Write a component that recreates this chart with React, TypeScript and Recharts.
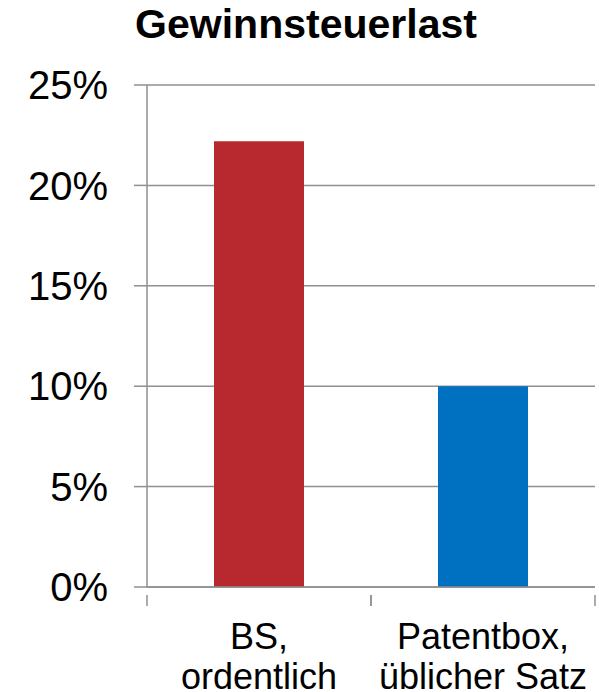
import { Bar, BarChart, CartesianGrid, Cell, XAxis, YAxis } from "recharts";

const categories = ["BS,\nordentlich", "Patentbox,\nüblicher Satz"];
const taxLoad = [22.2, 10];
const barColors = ["#B8282F", "#0070C0"];
const yTicks = [0, 5, 10, 15, 20, 25];

const data = categories.map((name, i) => ({ name, value: taxLoad[i] }));

const font = "'Liberation Sans', Arial, sans-serif";
const gray = "#8F8F8F";

function CategoryTick(props: any) {
  const { x, y, payload } = props;
  const half = 112; // half of a category band
  const lines = String(payload.value).split("\n");
  return (
    <g>
      <line x1={x - half} y1={y} x2={x - half} y2={y + 11} stroke={gray} strokeWidth={1.5} />
      <line x1={x + half} y1={y} x2={x + half} y2={y + 11} stroke={gray} strokeWidth={1.5} />
      {lines.map((line, i) => (
        <text
          key={i}
          x={x}
          y={y + 54 + i * 40}
          textAnchor="middle"
          fontSize={36}
          fontFamily={font}
          fill="#000"
        >
          {line}
        </text>
      ))}
    </g>
  );
}

export default function App() {
  return (
    <div style={{ position: "absolute", left: 0, top: 0, width: 599, height: 692, background: "#fff" }}>
      <div
        style={{
          position: "absolute",
          left: 0,
          top: 4,
          width: 612,
          textAlign: "center",
          fontFamily: font,
          fontWeight: "bold",
          fontSize: 41,
          lineHeight: "41px",
          color: "#000",
        }}
      >
        Gewinnsteuerlast
      </div>
      <BarChart
        width={599}
        height={692}
        data={data}
        margin={{ top: 85, right: 4, bottom: 0, left: 0 }}
      >
        <CartesianGrid vertical={false} stroke={gray} strokeWidth={1.5} />
        <XAxis
          dataKey="name"
          height={105}
          axisLine={{ stroke: gray, strokeWidth: 1.5 }}
          tickLine={false}
          tick={<CategoryTick />}
          interval={0}
        />
        <YAxis
          width={147}
          domain={[0, 25]}
          ticks={yTicks}
          tickFormatter={(v: number) => `${v}%`}
          axisLine={{ stroke: gray, strokeWidth: 1.5 }}
          tickLine={{ stroke: gray, strokeWidth: 1.5 }}
          tickSize={13}
          tickMargin={26}
          tick={{ fontSize: 40, fontFamily: font, fill: "#000" }}
        />
        <Bar dataKey="value" barSize={90} isAnimationActive={false}>
          {data.map((d, i) => (
            <Cell key={d.name} fill={barColors[i]} />
          ))}
        </Bar>
      </BarChart>
    </div>
  );
}
